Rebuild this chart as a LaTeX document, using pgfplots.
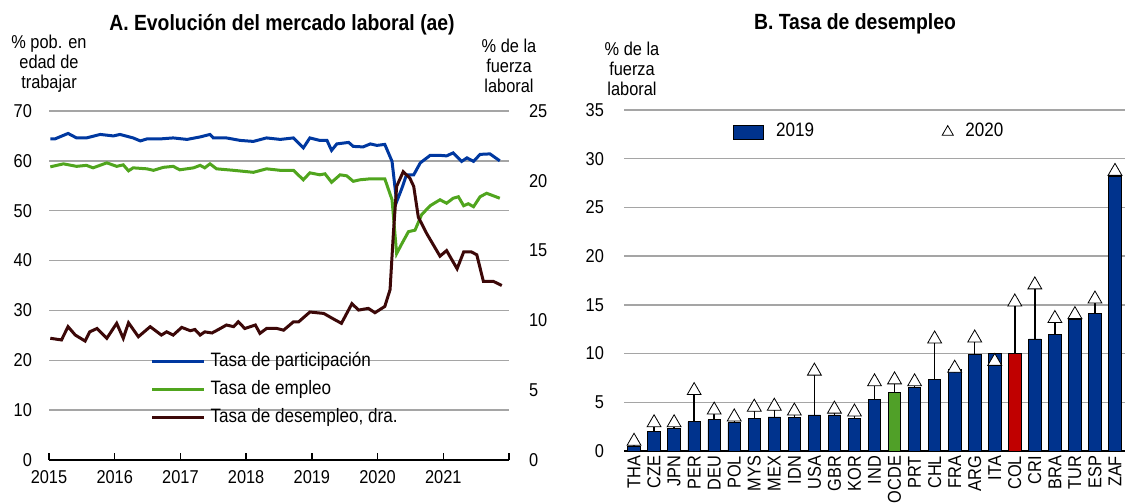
\documentclass[border=0pt]{standalone}
\usepackage{fontspec}
\setmainfont{Liberation Sans}[FakeStretch=0.88]
\usepackage{pgfplots}
\pgfplotsset{compat=1.18}

\definecolor{partblue}{RGB}{0,56,160}
\definecolor{empgreen}{RGB}{80,165,30}
\definecolor{unempbrown}{RGB}{60,8,8}
\definecolor{barblue}{RGB}{0,51,141}
\definecolor{oecdgreen}{RGB}{80,160,40}
\definecolor{colred}{RGB}{192,0,0}
\definecolor{gridgray}{RGB}{165,165,165}

\pgfplotsset{
  chartbase/.style={
    scale only axis, anchor=south west,
    /pgf/number format/assume math mode=true,
    ticklabel style={font=\fontsize{9.3}{11}\selectfont},
    grid style={draw=gridgray, line width=0.7pt},
    axis line style={black, line width=0.7pt},
    tick style={black, line width=0.7pt},
  },
  barlegend/.style={legend image code/.code={%
    \draw[fill=barblue, draw=black, line width=0.4pt] (0pt,-3.5pt) rectangle (15pt,3.5pt);}},
  trilegend/.style={legend image code/.code={%
    \draw[##1, mark size=3.2pt] plot coordinates {(3pt,0pt)};}},
  linelegend/.style={legend image code/.code={%
    \draw[##1, line width=1.6pt] (0pt,0pt) -- (26pt,0pt);}},
}

\begin{document}
\begin{tikzpicture}
\path[use as bounding box] (0,0) rectangle (563.5pt,251.5pt);

% panel A, left scale
\begin{axis}[chartbase,
  at={(24.5pt,21.5pt)}, width=230pt, height=174.5pt,
  xmin=2015, xmax=2022, ymin=0, ymax=70,
  xtick={2015,2016,...,2022},
  xticklabels={2015,2016,2017,2018,2019,2020,2021,{}},
  ytick={0,10,...,70},
  axis x line*=bottom, axis y line*=left,
  y axis line style={draw=none}, ytick style={draw=none},
  tick align=inside, major tick length=3.3pt,
  ymajorgrids,
  yticklabel style={xshift=-5pt},
  xticklabel style={yshift=-1.5pt},
]
\addplot[partblue, line width=1.5pt] coordinates {
(2015.02,64.4)(2015.09,64.4)(2015.29,65.5)(2015.42,64.6)(2015.57,64.6)(2015.78,65.3)
(2015.98,65.0)(2016.08,65.3)(2016.28,64.6)(2016.39,64.0)(2016.49,64.4)(2016.69,64.4)
(2016.89,64.6)(2017.10,64.3)(2017.30,64.8)(2017.45,65.3)(2017.50,64.6)(2017.70,64.6)
(2017.91,64.1)(2018.11,63.9)(2018.31,64.6)(2018.52,64.3)(2018.72,64.6)(2018.87,62.6)
(2018.97,64.6)(2019.12,64.1)(2019.23,64.1)(2019.30,62.1)(2019.38,63.4)(2019.56,63.7)
(2019.63,62.9)(2019.78,62.8)(2019.89,63.4)(2019.99,63.1)(2020.11,63.3)(2020.22,59.9)
(2020.29,51.8)(2020.37,54.5)(2020.44,57.2)(2020.55,57.2)(2020.65,59.6)(2020.80,61.1)
(2020.95,61.1)(2021.05,61.0)(2021.15,61.6)(2021.28,59.9)(2021.36,60.6)(2021.46,59.9)
(2021.56,61.3)(2021.71,61.4)(2021.86,60.0)};
\addplot[empgreen, line width=1.5pt] coordinates {
(2015.02,58.8)(2015.22,59.4)(2015.42,58.9)(2015.57,59.1)(2015.67,58.6)(2015.88,59.6)
(2016.03,58.9)(2016.13,59.2)(2016.21,58.0)(2016.28,58.6)(2016.49,58.4)(2016.59,58.1)
(2016.74,58.7)(2016.89,58.9)(2016.99,58.2)(2017.20,58.6)(2017.30,59.1)(2017.37,58.6)
(2017.45,59.4)(2017.55,58.4)(2017.81,58.1)(2018.11,57.7)(2018.31,58.4)(2018.52,58.1)
(2018.72,58.1)(2018.87,56.2)(2018.97,57.6)(2019.12,57.2)(2019.20,57.4)(2019.30,55.7)
(2019.43,57.2)(2019.53,57.0)(2019.63,55.9)(2019.73,56.2)(2019.89,56.4)(2020.11,56.4)
(2020.22,52.2)(2020.29,41.4)(2020.37,43.4)(2020.47,45.8)(2020.57,46.1)(2020.67,49.2)
(2020.80,51.0)(2020.95,52.2)(2021.05,51.5)(2021.15,52.5)(2021.23,52.8)(2021.31,51.0)
(2021.38,51.4)(2021.46,50.8)(2021.56,52.8)(2021.66,53.5)(2021.76,53.0)(2021.86,52.5)};
\end{axis}

% panel A, right scale
\begin{axis}[chartbase,
  at={(24.5pt,21.5pt)}, width=230pt, height=174.5pt,
  xmin=2015, xmax=2022, ymin=0, ymax=25,
  ytick={0,5,...,25},
  hide x axis, axis y line*=right,
  y axis line style={draw=none}, ytick style={draw=none},
  yticklabel style={xshift=6.5pt},
  legend cell align=left,
  legend style={at={(0.2196,0.309)}, anchor=north west, draw=none, fill=none,
    inner sep=0pt, row sep=5pt, font=\fontsize{9.7}{11}\selectfont,
    nodes={inner sep=0pt, text height=7pt, text depth=2pt},
    /tikz/every odd column/.append style={column sep=2.5pt}},
  linelegend,
]
\addlegendimage{partblue}
\addlegendentry{Tasa de participación}
\addlegendimage{empgreen}
\addlegendentry{Tasa de empleo}
\addplot[unempbrown, line width=1.5pt] coordinates {
(2015.02,8.72)(2015.19,8.6)(2015.29,9.55)(2015.40,8.95)(2015.55,8.52)(2015.62,9.18)
(2015.73,9.42)(2015.88,8.72)(2016.03,9.79)(2016.13,8.72)(2016.21,9.83)(2016.36,8.83)
(2016.54,9.55)(2016.71,8.95)(2016.79,9.18)(2016.89,8.95)(2017.02,9.5)(2017.15,9.26)
(2017.22,9.35)(2017.30,8.95)(2017.37,9.18)(2017.48,9.1)(2017.58,9.35)(2017.70,9.67)
(2017.81,9.55)(2017.88,9.9)(2017.98,9.42)(2018.14,9.67)(2018.21,9.07)(2018.31,9.42)
(2018.47,9.42)(2018.57,9.3)(2018.72,9.9)(2018.80,9.9)(2018.97,10.6)(2019.18,10.5)
(2019.33,10.1)(2019.45,9.79)(2019.61,11.2)(2019.71,10.74)(2019.86,10.86)(2019.96,10.55)
(2020.11,11.0)(2020.19,12.2)(2020.24,16.2)(2020.29,19.6)(2020.39,20.65)(2020.49,20.2)
(2020.55,19.6)(2020.62,17.4)(2020.75,16.2)(2020.95,14.6)(2021.05,15.0)(2021.21,13.7)
(2021.31,14.9)(2021.43,14.9)(2021.51,14.7)(2021.61,12.8)(2021.76,12.8)(2021.89,12.5)};
\addlegendentry{Tasa de desempleo, dra.}
\end{axis}

% panel B
\begin{axis}[chartbase,
  at={(312pt,26pt)}, width=250.5pt, height=170.5pt,
  xmin=-0.5, xmax=24.5, ymin=0, ymax=35,
  ytick={0,5,...,35},
  xtick={0,1,...,24},
  xticklabels={THA,CZE,JPN,PER,DEU,POL,MYS,MEX,IDN,USA,GBR,KOR,IND,OCDE,PRT,CHL,FRA,ARG,ITA,COL,CRI,BRA,TUR,ESP,ZAF},
  xticklabel style={rotate=90, anchor=east, xshift=1pt},
  axis x line*=bottom, axis y line*=left,
  y axis line style={draw=none}, ytick style={draw=none}, xtick style={draw=none},
  yticklabel style={xshift=-6.5pt},
  ymajorgrids,
  legend style={at={(0.2176,0.9355)}, anchor=west, draw=none, fill=none,
    inner sep=0pt, legend columns=2, font=\fontsize{9.7}{11}\selectfont,
    nodes={inner sep=0pt, text height=7pt, text depth=2pt},
    /tikz/every odd column/.append style={column sep=6pt},
    /tikz/every even column/.append style={column sep=64pt}},
]
\addplot[ybar, bar width=6.25pt, bar shift=0pt, fill=barblue, draw=black, line width=0.4pt, barlegend]
  coordinates {(0,0.45)(1,2.05)(2,2.3)(3,3.0)(4,3.2)(5,2.9)(6,3.35)(7,3.5)(8,3.45)(9,3.7)
  (10,3.7)(11,3.35)(12,5.3)(14,6.5)(15,7.3)(16,8.4)(17,9.9)(18,10.0)(20,11.5)(21,12.0)
  (22,13.5)(23,14.1)(24,28.2)};
\addlegendentry{2019}
\addplot[ybar, bar width=6.25pt, bar shift=0pt, fill=oecdgreen, draw=black, line width=0.4pt, forget plot]
  coordinates {(13,6.0)};
\addplot[ybar, bar width=6.25pt, bar shift=0pt, fill=colred, draw=black, line width=0.4pt, forget plot]
  coordinates {(19,10.0)};
% stems from the 2019 bar up to the 2020 marker
\addplot[only marks, mark=none, forget plot,
  error bars/.cd, y dir=minus, y explicit, error mark=none,
  error bar style={black, line width=0.7pt}]
  coordinates {
  (0,1.0) -= (0,0.55)
  (1,2.9) -= (0,0.85)
  (2,2.9) -= (0,0.6)
  (3,6.2) -= (0,3.2)
  (4,4.2) -= (0,1.0)
  (5,3.5) -= (0,0.6)
  (6,4.5) -= (0,1.15)
  (7,4.6) -= (0,1.1)
  (8,4.1) -= (0,0.65)
  (9,8.2) -= (0,4.5)
  (10,4.3) -= (0,0.6)
  (11,4.0) -= (0,0.65)
  (12,7.1) -= (0,1.8)
  (13,7.3) -= (0,1.3)
  (14,7.1) -= (0,0.6)
  (15,11.5) -= (0,4.2)
  (16,8.5) -= (0,0.1)
  (17,11.6) -= (0,1.7)
  (18,9.2) -= (0,0)
  (19,15.3) -= (0,5.3)
  (20,17.05) -= (0,5.55)
  (21,13.6) -= (0,1.6)
  (22,14.0) -= (0,0.5)
  (23,15.6) -= (0,1.5)
  (24,28.7) -= (0,0.5)};
\addplot[only marks, mark=triangle*, mark size=4pt,
  mark options={fill=white, draw=black, line width=0.4pt}, trilegend]
  coordinates {(0,1.0)(1,2.9)(2,2.9)(3,6.2)(4,4.2)(5,3.5)(6,4.5)(7,4.6)(8,4.1)(9,8.2)
  (10,4.3)(11,4.0)(12,7.1)(13,7.3)(14,7.1)(15,11.5)(16,8.5)(17,11.6)(18,9.2)(19,15.3)
  (20,17.05)(21,13.6)(22,14.0)(23,15.6)(24,28.7)};
\addlegendentry{2020}
\end{axis}

\node[font=\fontsize{11}{13}\selectfont\bfseries, anchor=base] at (141pt,236pt) {A. Evolución del mercado laboral (ae)};
\node[font=\fontsize{11}{13}\selectfont\bfseries, anchor=base] at (427.5pt,236.5pt) {B. Tasa de desempleo};
\node[align=center, font=\fontsize{9.3}{10}\selectfont] at (24.5pt,219.75pt) {\% pob. en\\edad de\\trabajar};
\node[align=center, font=\fontsize{9.3}{10}\selectfont] at (254.5pt,218.5pt) {\% de la\\fuerza\\laboral};
\node[align=center, font=\fontsize{9.3}{10}\selectfont] at (316pt,217pt) {\% de la\\fuerza\\laboral};
\end{tikzpicture}
\end{document}
